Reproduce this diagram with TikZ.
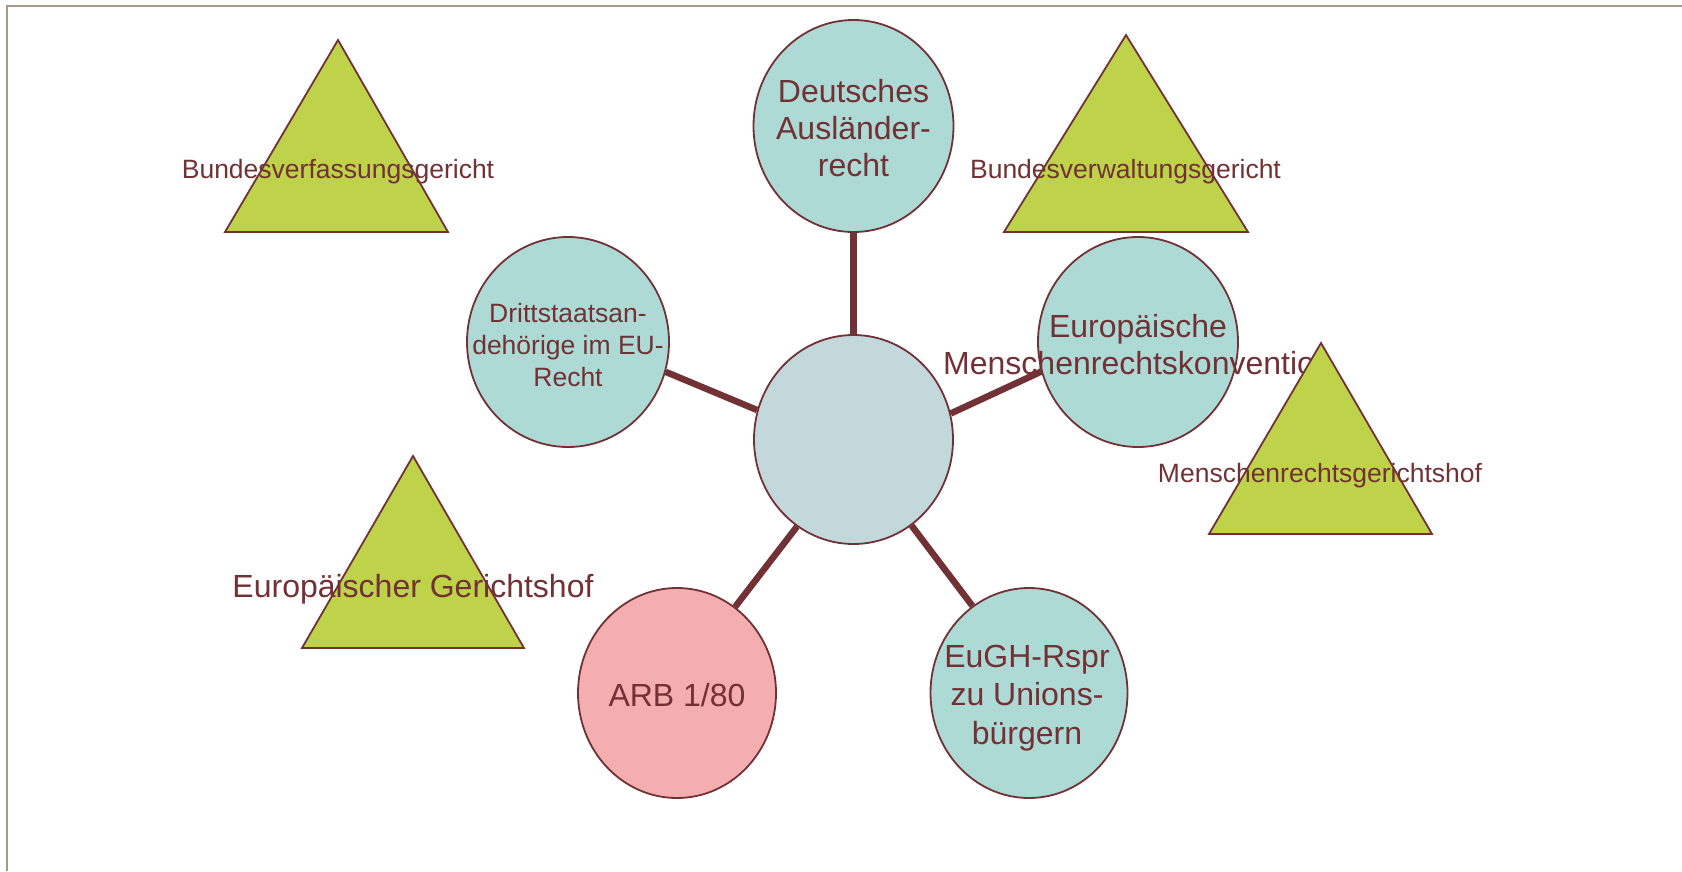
\documentclass[tikz,border=0pt]{standalone}
\usepackage{fontspec}
\setmainfont{Liberation Sans}
\usetikzlibrary{shapes.geometric}
\pgfdeclarelayer{bg}
\pgfsetlayers{bg,main}
\definecolor{maroon}{HTML}{713135}
\definecolor{teal}{HTML}{ADDAD4}
\definecolor{centerfill}{HTML}{C3D8DB}
\definecolor{pinkfill}{HTML}{F4AEB0}
\definecolor{greenfill}{HTML}{BED24A}
\definecolor{framecol}{HTML}{A99887}
\tikzset{
  circ/.style={ellipse, draw=maroon, line width=1.8pt, inner sep=0pt, fill=teal},
  link/.style={draw=maroon, line width=6.5pt},
  tri/.style={draw=maroon, line width=1.8pt, fill=greenfill, line join=miter},
  lbig/.style={font=\fontsize{32}{37}\selectfont, text=maroon, align=center, inner sep=0pt},
  lsmall/.style={font=\fontsize{26.5}{32}\selectfont, text=maroon, align=center, inner sep=0pt},
  frame/.style={draw=framecol, line width=2.5pt}
}
\begin{document}
\begin{tikzpicture}[x=1pt,y=-1pt]
\useasboundingbox (0,0) rectangle (1682,871);
\draw[frame] (7,871) -- (7,6) -- (1682,6);

% circles
\node[circ, minimum width=200pt, minimum height=212pt] (dar) at (853.5,126) {};
\node[circ, minimum width=202pt, minimum height=210pt] (dritt) at (568,342) {};
\node[circ, minimum width=200pt, minimum height=210pt] (emrk) at (1138,342) {};
\node[circ, fill=centerfill, minimum width=199pt, minimum height=209pt] (ctr) at (853.5,439.5) {};
\node[circ, fill=pinkfill, minimum width=198pt, minimum height=210pt] (arb) at (677,693) {};
\node[circ, minimum width=197pt, minimum height=210pt] (eugh) at (1029,693) {};

% connectors
\begin{pgfonlayer}{bg}
\draw[link] (ctr.90) -- (dar.270);
\draw[link] (ctr.163.5) -- (dritt.-17.7);
\draw[link] (ctr.15.8) -- (emrk.197.4);
\draw[link] (ctr.237.9) -- (arb.56.9);
\draw[link] (ctr.304.8) -- (eugh.123.8);
\end{pgfonlayer}

% circle texts
\node[lbig] (tdar) at (853.5,131.6) {\strut Deutsches\\\strut Ausländer-\\\strut recht};
\node[lsmall] (tdritt) at (568,347.6) {\strut Drittstaatsan-\\\strut dehörige im EU-\\\strut Recht};
\node[lbig] (temrk) at (1138,348.1) {\strut Europäische\\\strut Menschenrechtskonvention};
\node[lbig] (tarb) at (677,698.6) {\strut ARB 1/80};
\node[lbig, font=\fontsize{32}{38.5}\selectfont] (teugh) at (1027,697.8) {\strut EuGH-Rspr\\\strut zu Unions-\\\strut bürgern};

% triangles
\draw[tri] (338,40) -- (448,232) -- (225,232) -- cycle;
\draw[tri] (1126,35) -- (1248,232) -- (1004,232) -- cycle;
\draw[tri] (1321,343) -- (1432,534) -- (1209,534) -- cycle;
\draw[tri] (413,456) -- (524,648) -- (302,648) -- cycle;

% triangle labels
\node[lsmall, anchor=base] (bverfg) at (338,178) {Bundesverfassungsgericht};
\node[lsmall, anchor=base] (bverwg) at (1125.5,178) {Bundesverwaltungsgericht};
\node[lsmall, anchor=base] (egmr) at (1320,482) {Menschenrechtsgerichtshof};
\node[lbig, anchor=base] (eugerh) at (413,597) {Europäischer Gerichtshof};
\end{tikzpicture}
\end{document}
